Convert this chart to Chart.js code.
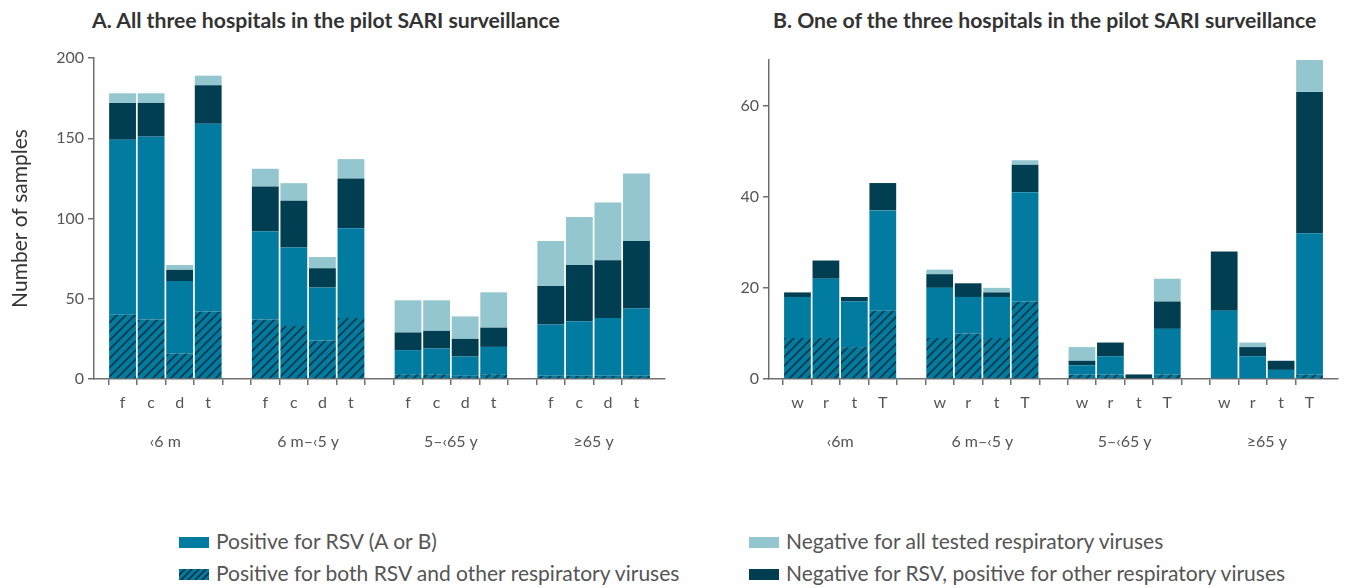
<!DOCTYPE html>
<html>
<head>
<meta charset="utf-8">
<script src="https://cdn.jsdelivr.net/npm/chart.js@4.4.1/dist/chart.umd.min.js"></script>
<style>
  body { margin: 0; background: #fff; width: 1346px; height: 588px; position: relative; overflow: hidden; font-family: Lato, sans-serif; }
  .panel { position: absolute; top: 0; width: 673px; height: 470px; }
  .title { position: absolute; top: 7px; font-weight: bold; font-size: 21.2px; color: #333; white-space: nowrap; }
  .leg { position: absolute; font-size: 21px; color: #555; white-space: nowrap; line-height: 24px; }
  .sw { display: inline-block; width: 30px; height: 11px; margin-right: 7px; vertical-align: 1px; }
</style>
</head>
<body>
<div class="title" style="left:92px">A. All three hospitals in the pilot SARI surveillance</div>
<div class="title" style="left:773px">B. One of the three hospitals in the pilot SARI surveillance</div>
<div class="panel" style="left:0"><canvas id="chartA"></canvas></div>
<div class="panel" style="left:673px"><canvas id="chartB"></canvas></div>

<div class="leg" style="left:179px;top:529px"><span class="sw" style="background:#017ca0"></span>Positive for RSV (A or B)</div>
<div class="leg" style="left:179px;top:561px"><span class="sw" style="background:repeating-linear-gradient(135deg,#017ca0 0 3px,#0b3f55 3px 5px)"></span>Positive for both RSV and other respiratory viruses</div>
<div class="leg" style="left:749px;top:529px"><span class="sw" style="background:#94c6d0"></span>Negative for all tested respiratory viruses</div>
<div class="leg" style="left:749px;top:561px"><span class="sw" style="background:#023e51"></span>Negative for RSV, positive for other respiratory viruses</div>

<script>
// age groups and per-bar sub labels
const groupsA = ['‹6 m', '6 m–‹5 y', '5–‹65 y', '≥65 y'];
const groupsB = ['‹6m', '6 m–‹5 y', '5–‹65 y', '≥65 y'];
const subA = ['f', 'c', 'd', 't'];
const subB = ['w', 'r', 't', 'T'];

// panel A segments, 4 bars per age group
const bothA    = [40, 37, 16, 42,  37, 33, 24, 38,  3, 3, 2, 3,  2, 2, 2, 2];
const rsvOnlyA = [109, 114, 45, 117,  55, 49, 33, 56,  15, 16, 12, 17,  32, 34, 36, 42];
const otherA   = [23, 21, 7, 24,  28, 29, 12, 31,  11, 11, 11, 12,  24, 35, 36, 42];
const negA     = [6, 6, 3, 6,  11, 11, 7, 12,  20, 19, 14, 22,  28, 30, 36, 42];

// panel B segments
const bothB    = [9, 9, 7, 15,  9, 10, 9, 17,  1, 1, 0, 1,  0, 0, 0, 1];
const rsvOnlyB = [9, 13, 10, 22,  11, 8, 9, 24,  2, 4, 0, 10,  15, 5, 2, 31];
const otherB   = [1, 4, 1, 6,  3, 3, 1, 6,  1, 3, 1, 6,  13, 2, 2, 31];
const negB     = [0, 0, 0, 0,  1, 0, 1, 1,  3, 0, 0, 5,  0, 1, 0, 7];

const TEAL = '#017ca0', DARK = '#023e51', LIGHT = '#94c6d0', AXIS = '#707070';

// blank slot before, between and after the groups
function slots(arr) {
  const out = [null];
  for (let g = 0; g < 4; g++) {
    out.push(...arr.slice(g * 4, g * 4 + 4));
    out.push(null);
  }
  return out;
}

function hatch() {
  const c = document.createElement('canvas');
  c.width = 9; c.height = 9;
  const ctx = c.getContext('2d');
  ctx.fillStyle = TEAL;
  ctx.fillRect(0, 0, 9, 9);
  ctx.strokeStyle = '#0b3a4c';
  ctx.lineWidth = 1.8;
  ctx.beginPath();
  ctx.moveTo(-1, 10); ctx.lineTo(10, -1);
  ctx.moveTo(-1, 1); ctx.lineTo(1, -1);
  ctx.moveTo(8, 10); ctx.lineTo(10, 8);
  ctx.stroke();
  return ctx.createPattern(c, 'repeat');
}

function makeChart(id, sub, groups, both, rsvOnly, other, neg, yMax, yStep, yWidth, top, right) {
  const labels = slots(sub.concat(sub, sub, sub)).map(v => v || '');
  const ds = (label, data, color) => ({
    label, data: slots(data), backgroundColor: color, stack: 's',
    borderWidth: 0, barPercentage: 0.94, categoryPercentage: 1
  });
  const endTick = ctx => (ctx.index === 0 || ctx.index === labels.length - 1) ? 'rgba(0,0,0,0)' : AXIS;
  return new Chart(document.getElementById(id), {
    type: 'bar',
    data: {
      labels,
      datasets: [
        ds('Positive for both RSV and other respiratory viruses', both, hatch()),
        ds('Positive for RSV (A or B)', rsvOnly, TEAL),
        ds('Negative for RSV, positive for other respiratory viruses', other, DARK),
        ds('Negative for all tested respiratory viruses', neg, LIGHT)
      ]
    },
    options: {
      responsive: true,
      maintainAspectRatio: false,
      animation: false,
      layout: { padding: { top, right, left: 0, bottom: 0 } },
      plugins: { legend: { display: false }, tooltip: { enabled: false } },
      scales: {
        x: {
          stacked: true,
          offset: false,
          weight: 0,
          border: { color: AXIS, width: 1.5 },
          grid: { drawOnChartArea: false, tickLength: 6, color: endTick, lineWidth: 1.5 },
          ticks: { color: '#555', font: { family: 'Lato', size: 16 }, padding: 8, autoSkip: false, maxRotation: 0 },
          afterFit: s => { s.height = 40; }
        },
        groups: {
          type: 'linear',
          position: 'bottom',
          offset: false,
          min: 0,
          max: labels.length - 1,
          weight: 1,
          border: { display: false },
          grid: { display: false, offset: false },
          afterBuildTicks: s => { s.ticks = [2.5, 7.5, 12.5, 17.5].map(value => ({ value })); },
          ticks: { color: '#555', font: { family: 'Lato', size: 16 }, padding: 5,
                   callback: (v, i) => groups[i] },
          afterFit: s => { s.height = 51; }
        },
        y: {
          stacked: true,
          min: 0,
          max: yMax,
          border: { color: AXIS, width: 1.5 },
          grid: { drawOnChartArea: false, tickLength: 6, color: AXIS, lineWidth: 1.5 },
          ticks: { stepSize: yStep, color: '#555', font: { family: 'Lato', size: 16 }, padding: 4 },
          afterBuildTicks: s => { s.ticks = s.ticks.filter(t => t.value % yStep === 0); },
          title: id === 'chartA'
            ? { display: true, text: 'Number of samples', color: '#333', font: { family: 'Lato', size: 21 }, padding: { top: 8 } }
            : { display: false },
          afterFit: s => { s.width = yWidth; }
        }
      }
    }
  });
}

makeChart('chartA', subA, groupsA, bothA, rsvOnlyA, otherA, negA, 200, 50, 94, 58, 7);
makeChart('chartB', subB, groupsB, bothB, rsvOnlyB, otherB, negB, 70, 20, 96, 60, 6);
</script>
</body>
</html>
